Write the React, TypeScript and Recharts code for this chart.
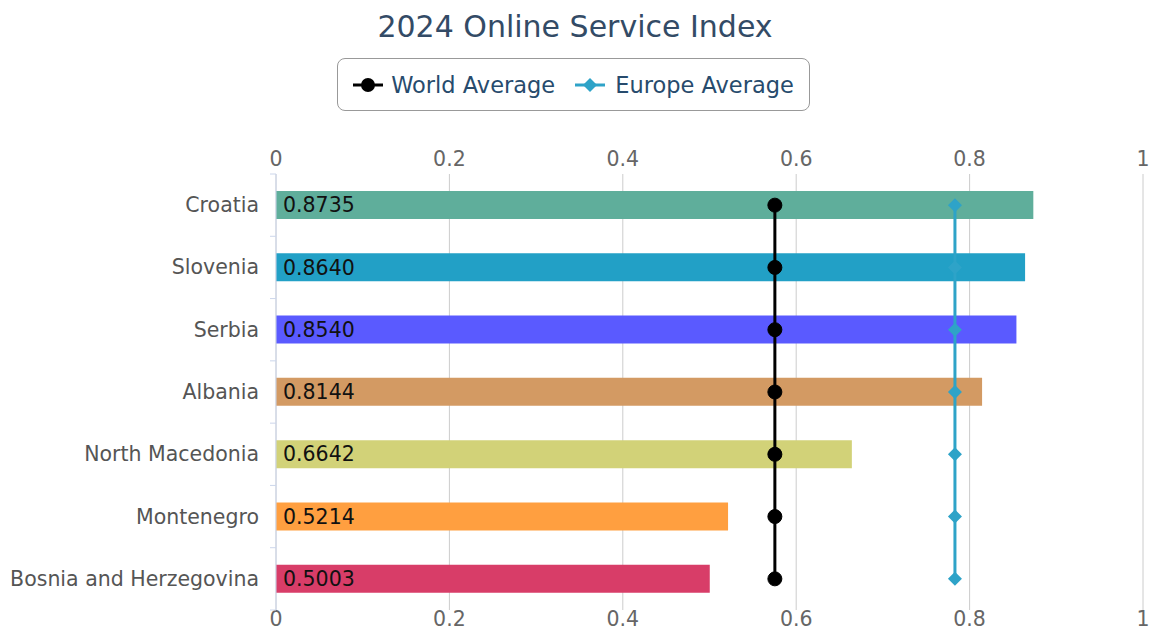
import { ComposedChart, Bar, Line, XAxis, YAxis, CartesianGrid, Cell, LabelList } from 'recharts';

const countries = [
  'Croatia',
  'Slovenia',
  'Serbia',
  'Albania',
  'North Macedonia',
  'Montenegro',
  'Bosnia and Herzegovina',
];
const osiValues = [0.8735, 0.864, 0.854, 0.8144, 0.6642, 0.5214, 0.5003];
const barColors = ['#5fae9b', '#22a0c6', '#5a5aff', '#d39a63', '#d2d278', '#ff9f40', '#d83d68'];
const worldAverage = 0.5754;
const europeAverage = 0.7831;
const xTicks = [0, 0.2, 0.4, 0.6, 0.8, 1];

const FONT = '"DejaVu Sans", Verdana, sans-serif';
const WORLD_COLOR = '#000000';
const EUROPE_COLOR = '#2ea3c8';

const chartData = countries.map((name, i) => ({
  name,
  osi: osiValues[i],
  world: worldAverage,
  europe: europeAverage,
}));

// category label plus a small tick at the band boundary
function CountryTick(props: any) {
  const { x, y, payload, index, visibleTicksCount } = props;
  const half = payload?.offset ?? 31;
  const lineX = x + 16;
  return (
    <g>
      <text x={x - 1} y={y} dy={7} textAnchor='end' fontSize={20.5} fill='#555' fontFamily={FONT}>
        {payload.value}
      </text>
      <line x1={lineX - 6} x2={lineX} y1={y - half} y2={y - half} stroke='#ccd6eb' />
      {index === visibleTicksCount - 1 && (
        <line x1={lineX - 6} x2={lineX} y1={y + half} y2={y + half} stroke='#ccd6eb' />
      )}
    </g>
  );
}

function Diamond(props: any) {
  const { cx, cy } = props;
  if (cx == null || cy == null) return null;
  const s = 7;
  return (
    <polygon
      points={`${cx},${cy - s} ${cx + s},${cy} ${cx},${cy + s} ${cx - s},${cy}`}
      fill={EUROPE_COLOR}
    />
  );
}

function LegendBox() {
  return (
    <div
      style={{
        position: 'absolute',
        left: 337,
        top: 58,
        width: 473,
        height: 53,
        boxSizing: 'border-box',
        border: '1px solid #999',
        borderRadius: 8,
        display: 'flex',
        alignItems: 'center',
        justifyContent: 'center',
        gap: 20,
        fontFamily: FONT,
        fontSize: 22.5,
        color: '#274b6d',
        whiteSpace: 'nowrap',
      }}
    >
      <span style={{ display: 'flex', alignItems: 'center' }}>
        <svg width={30} height={16} style={{ marginRight: 8 }}>
          <line x1={0} x2={30} y1={8} y2={8} stroke={WORLD_COLOR} strokeWidth={3} />
          <circle cx={15} cy={8} r={7} fill={WORLD_COLOR} />
        </svg>
        World Average
      </span>
      <span style={{ display: 'flex', alignItems: 'center' }}>
        <svg width={30} height={16} style={{ marginRight: 10 }}>
          <line x1={0} x2={30} y1={8} y2={8} stroke={EUROPE_COLOR} strokeWidth={3} />
          <polygon points='15,1 22,8 15,15 8,8' fill={EUROPE_COLOR} />
        </svg>
        Europe Average
      </span>
    </div>
  );
}

export default function App() {
  return (
    <div style={{ position: 'absolute', left: 0, top: 0, width: 1150, height: 636, background: '#fff' }}>
      <div
        style={{
          position: 'absolute',
          left: 0,
          top: 9,
          width: 1150,
          textAlign: 'center',
          fontFamily: FONT,
          fontSize: 30,
          color: '#334b66',
        }}
      >
        2024 Online Service Index
      </div>
      <LegendBox />
      <ComposedChart
        width={1150}
        height={636}
        data={chartData}
        layout='vertical'
        margin={{ top: 140, right: 7, bottom: 0, left: 0 }}
      >
        <CartesianGrid xAxisId='bottom' horizontal={false} stroke='#cccccc' />
        <XAxis
          xAxisId='top'
          orientation='top'
          type='number'
          domain={[0, 1]}
          ticks={xTicks}
          allowDataOverflow
          height={34}
          axisLine={false}
          tickLine={false}
          tick={{ fontSize: 20.5, fill: '#666', fontFamily: FONT }}
        />
        <XAxis
          xAxisId='bottom'
          orientation='bottom'
          type='number'
          domain={[0, 1]}
          ticks={xTicks}
          allowDataOverflow
          height={26}
          axisLine={false}
          tickLine={false}
          tickSize={0}
          tickMargin={1}
          tick={{ fontSize: 20.5, fill: '#666', fontFamily: FONT }}
        />
        <YAxis
          type='category'
          dataKey='name'
          width={276}
          axisLine={{ stroke: '#ccd6eb' }}
          tickLine={false}
          tickSize={6}
          tickMargin={10}
          tick={<CountryTick />}
          interval={0}
        />
        <Bar xAxisId='bottom' dataKey='osi' barSize={28} isAnimationActive={false}>
          {chartData.map((d, i) => (
            <Cell key={d.name} fill={barColors[i]} />
          ))}
          <LabelList
            dataKey='osi'
            position='insideLeft'
            offset={7}
            formatter={(v: any) => Number(v).toFixed(4)}
            style={{ fontSize: 20.5, fill: '#111', fontFamily: FONT }}
          />
        </Bar>
        <Line
          xAxisId='bottom'
          dataKey='world'
          stroke={WORLD_COLOR}
          strokeWidth={3}
          dot={{ r: 7, fill: WORLD_COLOR, stroke: WORLD_COLOR, strokeWidth: 1 }}
          activeDot={false}
          isAnimationActive={false}
        />
        <Line
          xAxisId='bottom'
          dataKey='europe'
          stroke={EUROPE_COLOR}
          strokeWidth={3}
          dot={<Diamond />}
          activeDot={false}
          isAnimationActive={false}
        />
      </ComposedChart>
    </div>
  );
}
